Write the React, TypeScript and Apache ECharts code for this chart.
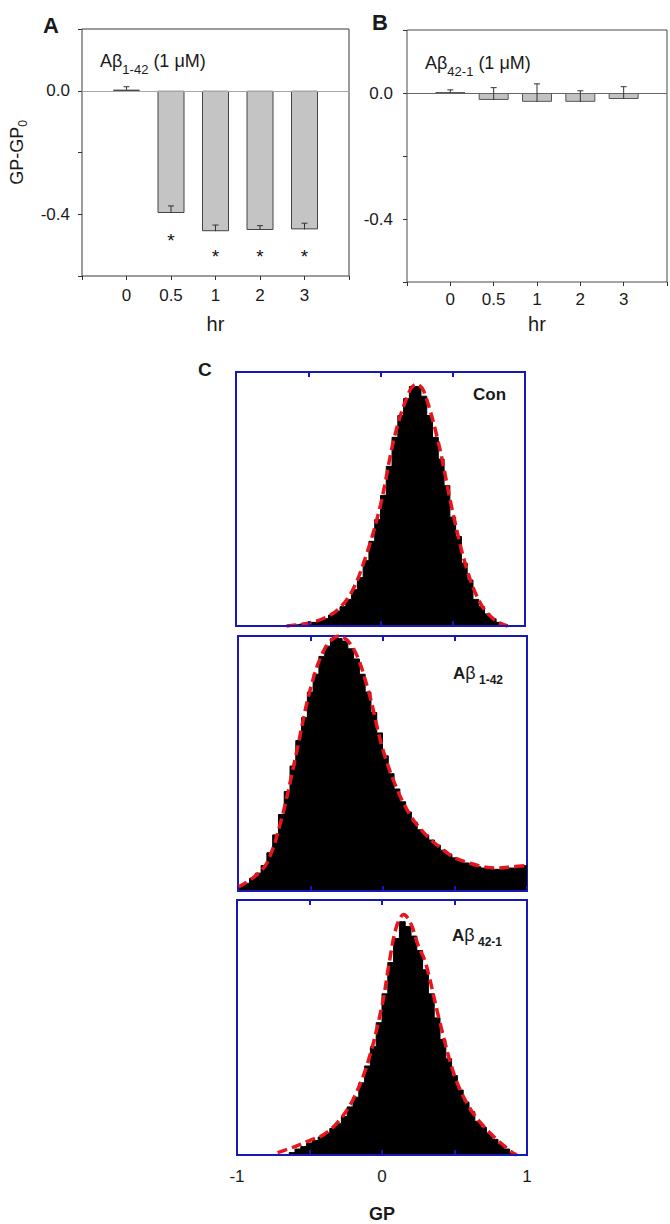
import React, { useEffect, useRef } from 'react';
import * as echarts from 'echarts';

// ---------- Panel A / B data ----------
const hrCategories = ['0', '0.5', '1', '2', '3'];
const a142Mean = [0.003, -0.396, -0.455, -0.451, -0.449];
const a142Err = [0.01, 0.023, 0.02, 0.014, 0.02];
const a142Asterisk = [null, -0.47, -0.52, -0.52, -0.52];
const a421Mean = [0.002, -0.022, -0.028, -0.028, -0.019];
const a421Err = [0.008, 0.039, 0.057, 0.035, 0.039];

// ---------- Panel C data (GP histograms, bin width 0.04 from -1 to 1) ----------
const gpMin = -1;
const gpBinWidth = 0.04;
const histCon = [
  0, 0, 0, 0, 0, 0, 0, 0, 0, 0.003, 0.005, 0.008, 0.01, 0.015, 0.022, 0.03, 0.045, 0.06, 0.08, 0.11,
  0.15, 0.2, 0.27, 0.35, 0.44, 0.54, 0.66, 0.78, 0.87, 0.94, 0.99, 0.99, 0.95, 0.87, 0.78, 0.69, 0.58, 0.45, 0.37, 0.26,
  0.19, 0.11, 0.08, 0.05, 0.03, 0.015, 0.006, 0.002, 0, 0,
];
const histA142 = [
  0.02, 0.03, 0.05, 0.07, 0.1, 0.15, 0.22, 0.3, 0.39, 0.49, 0.59, 0.68, 0.78, 0.85, 0.92, 0.96, 0.99, 0.99, 0.98, 0.95,
  0.91, 0.85, 0.78, 0.7, 0.62, 0.53, 0.46, 0.4, 0.35, 0.31, 0.27, 0.24, 0.22, 0.2, 0.18, 0.16, 0.145, 0.13, 0.12, 0.11,
  0.1, 0.095, 0.09, 0.09, 0.085, 0.085, 0.09, 0.09, 0.095, 0.1,
];
const histA421 = [
  0, 0, 0, 0, 0, 0, 0, 0, 0, 0.01, 0.025, 0.035, 0.05, 0.06, 0.075, 0.09, 0.11, 0.13, 0.16, 0.2,
  0.24, 0.3, 0.37, 0.45, 0.55, 0.67, 0.8, 0.9, 0.97, 0.95, 0.91, 0.85, 0.77, 0.67, 0.57, 0.48, 0.4, 0.33, 0.27, 0.22,
  0.18, 0.14, 0.115, 0.09, 0.065, 0.045, 0.025, 0.008, 0, 0,
];

// fitted curves (red dashed)
const fitConX = [-0.65, -0.5, -0.4, -0.3, -0.2, -0.1, 0, 0.1, 0.2, 0.25, 0.3, 0.4, 0.5, 0.6, 0.7, 0.8, 0.88];
const fitConY = [0, 0.012, 0.03, 0.065, 0.14, 0.29, 0.5, 0.79, 0.97, 1.0, 0.97, 0.76, 0.47, 0.23, 0.085, 0.02, 0];
const fitA142X = [-1, -0.9, -0.8, -0.7, -0.6, -0.5, -0.4, -0.3, -0.2, -0.1, 0, 0.1, 0.2, 0.3, 0.4, 0.5, 0.6, 0.7, 0.8, 0.9, 1];
const fitA142Y = [0.015, 0.05, 0.11, 0.28, 0.53, 0.79, 0.95, 1.0, 0.95, 0.79, 0.56, 0.4, 0.29, 0.22, 0.17, 0.13, 0.11, 0.095, 0.09, 0.095, 0.1];
const fitA421X = [-0.72, -0.6, -0.5, -0.4, -0.3, -0.2, -0.1, 0, 0.05, 0.1, 0.15, 0.2, 0.25, 0.3, 0.4, 0.5, 0.6, 0.7, 0.8, 0.9, 0.93];
const fitA421Y = [0.01, 0.035, 0.06, 0.085, 0.14, 0.23, 0.38, 0.62, 0.8, 0.95, 1.0, 0.96, 0.87, 0.8, 0.55, 0.33, 0.2, 0.12, 0.06, 0.01, 0];

const gpTickLabels = ['-1', '0', '1'];

const FONT = 'Arial, "Liberation Sans", Helvetica, sans-serif';
const BLUE = '#1818b8';
const RED = '#e8161c';
const INK = '#1a1a1a';

function histPoints(hist: number[]) {
  const pts: number[][] = [[gpMin, hist[0]]];
  hist.forEach((v, i) => pts.push([gpMin + gpBinWidth * (i + 0.5), v]));
  pts.push([gpMin + gpBinWidth * hist.length, hist[hist.length - 1]]);
  return pts;
}

function errorBarSeries(idx: number, mean: number[], err: number[], color: string) {
  return {
    type: 'custom',
    xAxisIndex: idx,
    yAxisIndex: idx,
    z: 5,
    data: mean.map((m, i) => [i, m, m + err[i]]),
    renderItem: (_p: any, api: any) => {
      const x = api.value(0);
      const p0 = api.coord([x, api.value(1)]);
      const p1 = api.coord([x, api.value(2)]);
      const style = { stroke: color, lineWidth: 1 };
      return {
        type: 'group',
        children: [
          { type: 'line', shape: { x1: p0[0], y1: p0[1], x2: p1[0], y2: p1[1] }, style },
          { type: 'line', shape: { x1: p1[0] - 3, y1: p1[1], x2: p1[0] + 3, y2: p1[1] }, style },
        ],
      };
    },
  };
}

function yLabel(v: number) {
  if (Math.abs(v) < 1e-6) return '0.0';
  if (Math.abs(v + 0.4) < 1e-6) return '-0.4';
  return '';
}

function richNormal() {
  return {
    m: { fontSize: 18, lineHeight: 24, fontFamily: FONT, fill: INK, color: INK },
    s: { fontSize: 13, lineHeight: 14, verticalAlign: 'middle', padding: [17, 0, 0, 0], fontFamily: FONT, fill: INK, color: INK },
  };
}
function richBold() {
  return {
    m: { fontSize: 17, lineHeight: 24, fontWeight: 'bold', fontFamily: FONT, fill: INK, color: INK },
    b: { fontSize: 18, lineHeight: 24, fontFamily: FONT, fill: INK, color: INK },
    s: { fontSize: 12, lineHeight: 13, fontWeight: 'bold', verticalAlign: 'middle', padding: [13, 0, 0, 0], fontFamily: FONT, fill: INK, color: INK },
  };
}

export default function App() {
  const ref = useRef<HTMLDivElement>(null);
  useEffect(() => {
    if (!ref.current) return;
    const chart = echarts.init(ref.current, null, { renderer: 'svg' });

    const cGrids = [
      { left: 236, top: 372, width: 289, height: 254 },
      { left: 238, top: 636, width: 289, height: 255 },
      { left: 237, top: 900, width: 290, height: 256 },
    ];
    const cYMax = [1.05, 1.0, 1.06];
    const cHist = [histCon, histA142, histA421];
    const cFitX = [fitConX, fitA142X, fitA421X];
    const cFitY = [fitConY, fitA142Y, fitA421Y];

    const grids: any[] = [
      { left: 82, top: 29, width: 267, height: 247, show: true, borderColor: '#3a3a3a', borderWidth: 1 },
      { left: 407, top: 30, width: 268, height: 252, show: true, borderColor: '#4a4a4a', borderWidth: 1 },
      ...cGrids.map((g) => ({ ...g, show: true, borderColor: BLUE, borderWidth: 2 })),
    ];

    const barX = (gi: number, nameGap: number, margin: number) => ({
      type: 'value',
      gridIndex: gi,
      min: -1,
      max: 5,
      interval: 1,
      axisLine: { show: false, onZero: false },
      axisTick: { show: true, length: 4, lineStyle: { color: '#333' } },
      axisLabel: {
        margin,
        fontSize: 17,
        fontFamily: FONT,
        color: INK,
        formatter: (v: number) => hrCategories[v] ?? '',
      },
      splitLine: { show: false },
      name: 'hr',
      nameLocation: 'middle',
      nameGap,
      nameTextStyle: { fontSize: 20, fontFamily: FONT, color: INK },
    });
    const barY = (gi: number, margin: number, withName: boolean) => ({
      type: 'value',
      gridIndex: gi,
      min: -0.6,
      max: 0.2,
      interval: 0.2,
      axisLine: { show: false, onZero: false },
      axisTick: { show: true, length: 4, lineStyle: { color: '#333' } },
      axisLabel: { margin, fontSize: 17, fontFamily: FONT, color: INK, formatter: yLabel },
      splitLine: { show: false },
      ...(withName
        ? {
            name: '{m|GP-GP}{s|0}',
            nameLocation: 'middle',
            nameGap: 53,
            nameTextStyle: {
              fontSize: 18,
              fontFamily: FONT,
              color: INK,
              rich: {
                m: { fontSize: 18, lineHeight: 24, fontFamily: FONT, color: INK },
                s: { fontSize: 12, lineHeight: 12, verticalAlign: 'bottom', fontFamily: FONT, color: INK },
              },
            },
          }
        : {}),
    });

    const xAxes: any[] = [barX(0, 38, 11), barX(1, 32, 9)];
    const yAxes: any[] = [barY(0, 12, true), barY(1, 14, false)];
    cGrids.forEach((_, k) => {
      const gi = k + 2;
      const last = k === 2;
      xAxes.push({
        type: 'value',
        gridIndex: gi,
        min: -1,
        max: 1,
        interval: 0.5,
        position: 'bottom',
        z: 10,
        axisLine: { show: true, onZero: false, lineStyle: { color: BLUE, width: 2 } },
        axisTick: { show: true, inside: true, length: 5, lineStyle: { color: BLUE, width: 2 } },
        axisLabel: {
          show: last,
          margin: 13,
          fontSize: 17,
          fontFamily: FONT,
          color: INK,
          formatter: (v: number) =>
            Math.abs(v + 1) < 1e-6 ? gpTickLabels[0] : Math.abs(v) < 1e-6 ? gpTickLabels[1] : Math.abs(v - 1) < 1e-6 ? gpTickLabels[2] : '',
        },
        splitLine: { show: false },
        ...(last
          ? {
              name: 'GP',
              nameLocation: 'middle',
              nameGap: 50,
              nameTextStyle: { fontSize: 18, fontWeight: 'bold', fontFamily: FONT, color: INK },
            }
          : {}),
      });
      xAxes.push({
        type: 'value',
        gridIndex: gi,
        min: -1,
        max: 1,
        interval: 0.5,
        position: 'top',
        z: 10,
        axisLine: { show: false, onZero: false },
        axisTick: { show: true, inside: true, length: 5, lineStyle: { color: BLUE, width: 2 } },
        axisLabel: { show: false },
        splitLine: { show: false },
      });
      yAxes.push({ type: 'value', gridIndex: gi, min: 0, max: cYMax[k], show: false, splitLine: { show: false } });
    });

    const series: any[] = [
      {
        type: 'bar',
        xAxisIndex: 0,
        yAxisIndex: 0,
        barWidth: 27,
        data: a142Mean.map((v, i) => [i, v]),
        itemStyle: { color: '#c4c4c4', borderColor: '#444', borderWidth: 1 },
        markLine: {
          silent: true,
          symbol: 'none',
          label: { show: false },
          lineStyle: { color: '#a8a8a8', type: 'solid', width: 1 },
          data: [{ yAxis: 0 }],
        },
      },
      errorBarSeries(0, a142Mean, a142Err, '#333'),
      {
        type: 'custom',
        xAxisIndex: 0,
        yAxisIndex: 0,
        z: 6,
        data: a142Asterisk.map((v, i) => (v == null ? null : [i, v])).filter((d) => d !== null),
        renderItem: (_p: any, api: any) => {
          const pt = api.coord([api.value(0), api.value(1)]);
          return {
            type: 'text',
            x: pt[0],
            y: pt[1] + 5,
            style: { text: '*', fontSize: 19, fontFamily: FONT, fill: '#111', align: 'center', verticalAlign: 'middle' },
          };
        },
      },
      {
        type: 'bar',
        xAxisIndex: 1,
        yAxisIndex: 1,
        barWidth: 30,
        data: a421Mean.map((v, i) => [i, v]),
        itemStyle: { color: '#c2c2c2', borderColor: '#555', borderWidth: 1 },
        markLine: {
          silent: true,
          symbol: 'none',
          label: { show: false },
          lineStyle: { color: '#666', type: 'solid', width: 1 },
          data: [{ yAxis: 0 }],
        },
      },
      errorBarSeries(1, a421Mean, a421Err, '#333'),
    ];

    cGrids.forEach((_, k) => {
      const gi = k + 2;
      series.push({
        type: 'line',
        xAxisIndex: 2 + k * 2,
        yAxisIndex: gi,
        step: 'middle',
        symbol: 'none',
        data: histPoints(cHist[k]),
        lineStyle: { color: '#000', width: 1 },
        areaStyle: { color: '#000', opacity: 1 },
        z: 2,
      });
      series.push({
        type: 'line',
        xAxisIndex: 2 + k * 2,
        yAxisIndex: gi,
        smooth: 0.35,
        symbol: 'none',
        clip: false,
        data: cFitX[k].map((x, i) => [x, cFitY[k][i]]),
        lineStyle: { color: RED, width: 3.5, type: [10, 5] },
        z: 3,
      });
    });

    const txt = (x: number, y: number, text: string, fontSize: number, bold: boolean, extra: any = {}) => ({
      type: 'text',
      x,
      y,
      z: 20,
      style: {
        text,
        fontSize,
        fontWeight: bold ? 'bold' : 'normal',
        fontFamily: FONT,
        fill: INK,
        align: 'left',
        verticalAlign: 'middle',
        ...extra,
      },
    });

    const option: any = {
      animation: false,
      textStyle: { fontFamily: FONT },
      grid: grids,
      xAxis: xAxes,
      yAxis: yAxes,
      series,
      graphic: [
        txt(43, 25, 'A', 22, true),
        txt(372, 22, 'B', 22, true),
        txt(198, 369, 'C', 19, true),
        txt(100, 61, '{m|Aβ}{s|1-42}{m| (1 μM)}', 18, false, { rich: richNormal() }),
        txt(425, 63, '{m|Aβ}{s|42-1}{m| (1 μM)}', 18, false, { rich: richNormal() }),
        txt(473, 394, 'Con', 17, true),
        txt(453, 673, '{m|A}{b|β}{s| 1-42}', 17, true, { rich: richBold() }),
        txt(452, 935, '{m|A}{b|β}{s| 42-1}', 17, true, { rich: richBold() }),
      ],
    };
    chart.setOption(option);
    return () => chart.dispose();
  }, []);

  return (
    <div
      ref={ref}
      style={{ position: 'absolute', left: 0, top: 0, width: 670, height: 1224, background: '#fff' }}
    />
  );
}
